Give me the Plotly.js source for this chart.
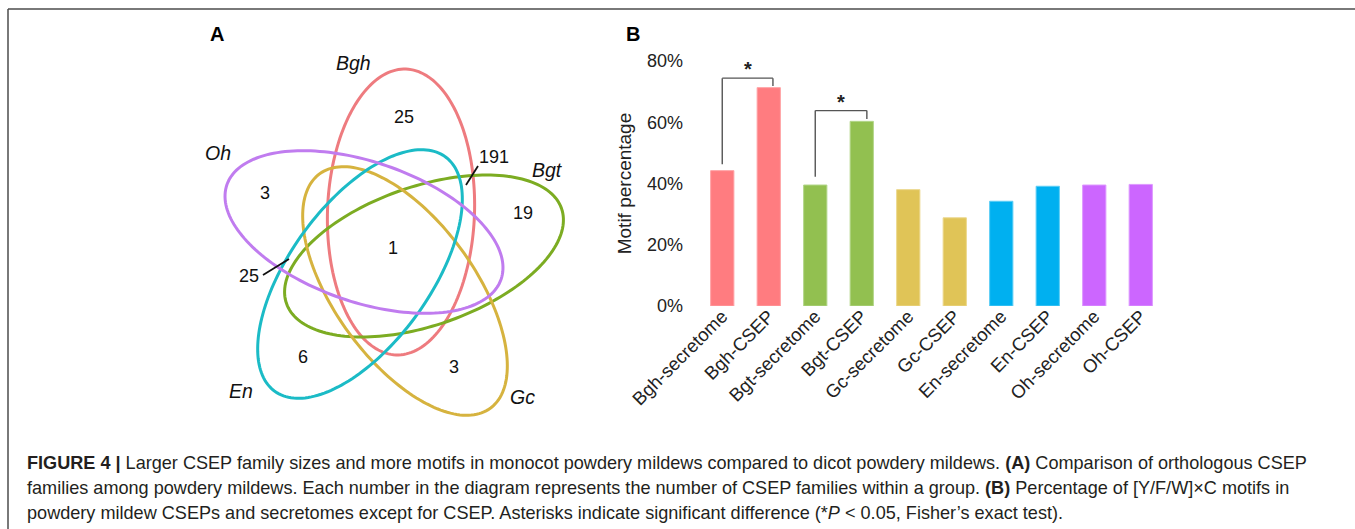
<!DOCTYPE html>
<html>
<head>
<meta charset="utf-8">
<script src="https://cdn.plot.ly/plotly-3.0.1.min.js"></script>
<style>
  html, body { margin: 0; padding: 0; background: #fff; }
  #chart { width: 1355px; height: 529px; }
</style>
</head>
<body>
<div id="chart"></div>
<script>
// ---------- Data ----------
const categories = ["Bgh-secretome", "Bgh-CSEP", "Bgt-secretome", "Bgt-CSEP", "Gc-secretome",
                    "Gc-CSEP", "En-secretome", "En-CSEP", "Oh-secretome", "Oh-CSEP"];
const motifPercent = [44.2, 71.3, 39.5, 60.3, 38.0, 28.8, 34.2, 39.1, 39.5, 39.7];
const yTickValues = [0, 20, 40, 60, 80];
const yTickLabels = ["0%", "20%", "40%", "60%", "80%"];

const vennSets = ["Bgh", "Bgt", "Gc", "En", "Oh"];
const vennCounts = ["25", "191", "19", "3", "1", "25", "6", "3"];

// ---------- Styles / geometry ----------
const W = 1355, H = 529;
const FONT = '"Liberation Sans", Arial, Helvetica, sans-serif';
const barColors = ["#FF7C80", "#FF7C80", "#92C050", "#92C050", "#E0C457", "#E0C457",
                   "#00B0F0", "#00B0F0", "#CC66FF", "#CC66FF"];
const barEdge = ["#FFA3A6", "#FFA3A6", "#B3D68A", "#B3D68A", "#ECD88E", "#ECD88E",
                 "#5CCDF5", "#5CCDF5", "#DD99FF", "#DD99FF"];

// ellipse geometry in pixel space: [cx, cy, a, b, angle(deg, ccw)]
const ellipseGeom = {
  Bgh: [401, 212, 143, 73.5, 88],
  Bgt: [424, 256, 145.5, 69.5, 19],
  Gc:  [405, 291, 145, 70, -54],
  En:  [360, 274, 145, 70, 54],
  Oh:  [364, 232, 145, 70, -19]
};
const ellipseColor = { Bgh: "#EE7B7F", Bgt: "#7CAC22", Gc: "#D6B33F", En: "#1BBBC6", Oh: "#C07CEF" };
const setLabelPos = { Bgh: [353, 63], Bgt: [547, 170], Gc: [522, 397], En: [241, 391], Oh: [218, 153] };
const countPos = [[404, 117], [494, 157], [523, 213], [265, 193], [393, 248], [249, 276], [303, 357], [454, 367]];
const leaders = [[[466, 185], [478, 166]], [[263, 275], [289, 259]]];

function px(x) { return x / W; }
function py(y) { return 1 - y / H; }

function ellipsePath(g) {
  const [cx, cy, a, b, ang] = g;
  const t = ang * Math.PI / 180;
  let d = "";
  const n = 180;
  for (let i = 0; i <= n; i++) {
    const u = 2 * Math.PI * i / n;
    const ex = a * Math.cos(u), ey = b * Math.sin(u);
    const x = cx + ex * Math.cos(t) - ey * Math.sin(t);
    const y = cy - (ex * Math.sin(t) + ey * Math.cos(t));
    d += (i === 0 ? "M" : "L") + px(x).toFixed(5) + "," + py(y).toFixed(5);
  }
  return d + "Z";
}

// ---------- Traces ----------
const traces = [{
  type: "bar",
  x: categories,
  y: motifPercent,
  marker: { color: barColors, line: { color: barEdge, width: 1 } },
  hoverinfo: "x+y",
  showlegend: false
}];

// ---------- Shapes ----------
const shapes = [];
shapes.push({ type: "line", xref: "paper", yref: "paper", x0: px(8), y0: py(9), x1: px(1355), y1: py(9),
              line: { color: "#4d4d4d", width: 1.5 } });
shapes.push({ type: "line", xref: "paper", yref: "paper", x0: px(8), y0: py(9), x1: px(8), y1: py(529),
              line: { color: "#4d4d4d", width: 1.5 } });
vennSets.forEach(s => {
  shapes.push({ type: "path", xref: "paper", yref: "paper", path: ellipsePath(ellipseGeom[s]),
                line: { color: ellipseColor[s], width: 3 }, fillcolor: "rgba(0,0,0,0)" });
});
leaders.forEach(l => {
  shapes.push({ type: "line", xref: "paper", yref: "paper", x0: px(l[0][0]), y0: py(l[0][1]),
                x1: px(l[1][0]), y1: py(l[1][1]), line: { color: "#111", width: 1.8 } });
});
const brackets = [
  { x0: 0, x1: 1.09, yLeft: 46.3, yRight: 71.8, yTop: 74.4 },
  { x0: 2, x1: 3.11, yLeft: 42.2, yRight: 61.1, yTop: 63.8 }
];
brackets.forEach(b => {
  const ln = { color: "#555", width: 1.4 };
  shapes.push({ type: "line", xref: "x", yref: "y", x0: b.x0, x1: b.x0, y0: b.yLeft, y1: b.yTop, line: ln });
  shapes.push({ type: "line", xref: "x", yref: "y", x0: b.x0, x1: b.x1, y0: b.yTop, y1: b.yTop, line: ln });
  shapes.push({ type: "line", xref: "x", yref: "y", x0: b.x1, x1: b.x1, y0: b.yTop, y1: b.yRight, line: ln });
});

// ---------- Annotations ----------
const annotations = [];
annotations.push({ xref: "paper", yref: "paper", x: px(217), y: py(34), text: "<b>A</b>", showarrow: false,
                   font: { family: FONT, size: 20, color: "#000" }, xanchor: "center", yanchor: "middle" });
annotations.push({ xref: "paper", yref: "paper", x: px(633), y: py(34), text: "<b>B</b>", showarrow: false,
                   font: { family: FONT, size: 20, color: "#000" }, xanchor: "center", yanchor: "middle" });
vennSets.forEach(s => {
  annotations.push({ xref: "paper", yref: "paper", x: px(setLabelPos[s][0]), y: py(setLabelPos[s][1]),
                     text: "<i>" + s + "</i>", showarrow: false, xanchor: "center", yanchor: "middle",
                     font: { family: FONT, size: 19.5, color: "#111" } });
});
vennCounts.forEach((c, i) => {
  annotations.push({ xref: "paper", yref: "paper", x: px(countPos[i][0]), y: py(countPos[i][1]),
                     text: c, showarrow: false, xanchor: "center", yanchor: "middle",
                     font: { family: FONT, size: 18, color: "#111" } });
});
[{ x: 0.55, y: 77.5 }, { x: 2.55, y: 66.7 }].forEach(s => {
  annotations.push({ xref: "x", yref: "y", x: s.x, y: s.y, text: "<b>*</b>", showarrow: false,
                     xanchor: "center", yanchor: "middle", font: { family: FONT, size: 20, color: "#222" } });
});
const captionLines = [
  "<b>FIGURE 4 |</b> Larger CSEP family sizes and more motifs in monocot powdery mildews compared to dicot powdery mildews. <b>(A)</b> Comparison of orthologous CSEP",
  "families among powdery mildews. Each number in the diagram represents the number of CSEP families within a group. <b>(B)</b> Percentage of [Y/F/W]×C motifs in",
  "powdery mildew CSEPs and secretomes except for CSEP. Asterisks indicate significant difference (*<i>P</i> &lt; 0.05, Fisher’s exact test)."
];
const captionY = [463, 488, 513];
captionLines.forEach((t, i) => {
  annotations.push({ xref: "paper", yref: "paper", x: px(25), y: py(captionY[i]), text: t, showarrow: false,
                     xanchor: "left", yanchor: "middle", align: "left",
                     font: { family: FONT, size: 18.1, color: "#231F20" } });
});

// ---------- Layout ----------
const layout = {
  width: W, height: H,
  margin: { l: 0, r: 0, t: 0, b: 0, pad: 0 },
  paper_bgcolor: "#fff", plot_bgcolor: "rgba(0,0,0,0)",
  font: { family: FONT, color: "#222" },
  bargap: 0.5,
  xaxis: {
    type: "category", domain: [px(699), px(1164)], range: [-0.5, 9.5],
    showgrid: false, zeroline: false, showline: false, ticks: "",
    tickangle: -45, tickfont: { family: FONT, size: 18.5, color: "#222" }, ticklabelstandoff: -5,
    automargin: false
  },
  yaxis: {
    domain: [py(306), py(61)], range: [0, 80],
    tickvals: yTickValues, ticktext: yTickLabels,
    showgrid: false, zeroline: false, showline: false, ticks: "",
    tickfont: { family: FONT, size: 18, color: "#222" }, ticklabelstandoff: 15,
    title: { text: "Motif percentage", font: { family: FONT, size: 19, color: "#222" }, standoff: 10 },
    automargin: false
  },
  shapes: shapes,
  annotations: annotations
};

Plotly.newPlot("chart", traces, layout, { displayModeBar: false, staticPlot: true });
</script>
</body>
</html>
